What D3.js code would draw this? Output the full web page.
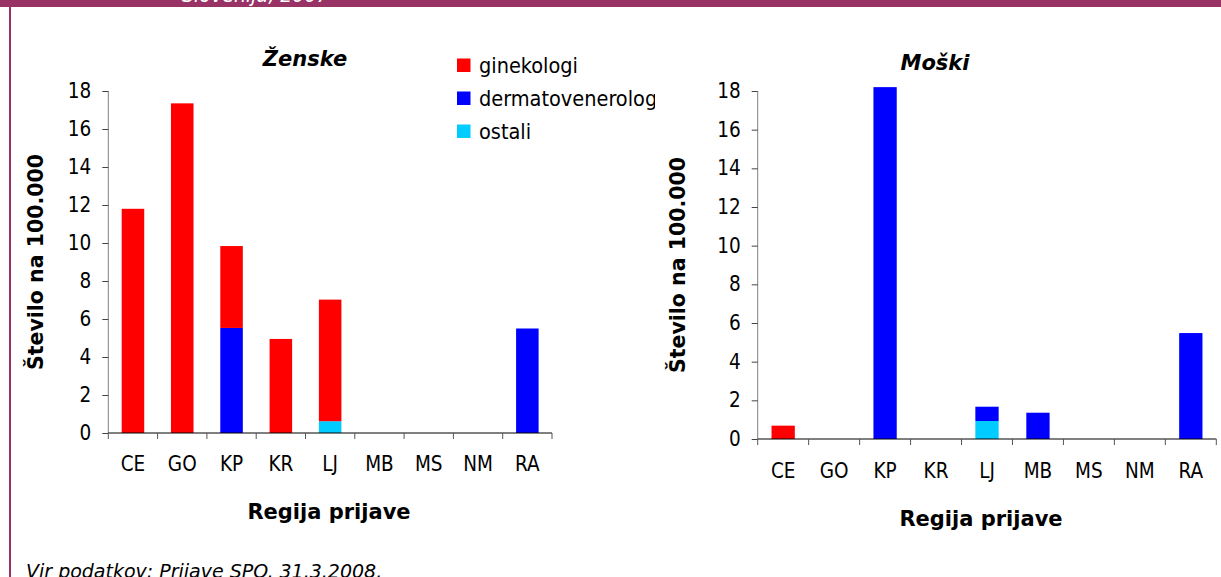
<!DOCTYPE html>
<html>
<head>
<meta charset="utf-8">
<script src="https://cdn.jsdelivr.net/npm/d3@7"></script>
<style>
  html, body { margin: 0; padding: 0; background: #fff; }
  svg { display: block; font-family: "DejaVu Sans", Verdana, sans-serif; }
  .cond { font-family: "DejaVu Sans Condensed", "DejaVu Sans", sans-serif; font-stretch: condensed; }
</style>
</head>
<body>
<svg id="chart" width="1221" height="577"></svg>
<script>
// Regions of notification
const regions = ["CE", "GO", "KP", "KR", "LJ", "MB", "MS", "NM", "RA"];

// Series (rate per 100.000), stacked bottom to top: ostali, dermatovenerologi, ginekologi
const seriesKeys = ["ostali", "dermatovenerologi", "ginekologi"];
const legendKeys = ["ginekologi", "dermatovenerologi", "ostali"];
const seriesColors = { ginekologi: "#ff0000", dermatovenerologi: "#0000ff", ostali: "#00ccff" };

// Women
const zGinekologi = [11.8, 17.35, 4.31, 4.95, 6.4, 0, 0, 0, 0];
const zDermato    = [0, 0, 5.53, 0, 0, 0, 0, 0, 5.5];
const zOstali     = [0, 0, 0, 0, 0.62, 0, 0, 0, 0];

// Men
const mGinekologi = [0.69, 0, 0, 0, 0, 0, 0, 0, 0];
const mDermato    = [0, 0, 18.2, 0, 0.74, 1.36, 0, 0, 5.48];
const mOstali     = [0, 0, 0, 0, 0.93, 0, 0, 0, 0];

const yTicks = [0, 2, 4, 6, 8, 10, 12, 14, 16, 18];

const svg = d3.select("#chart");
const purple = "#993366";

// Header band and left frame line
svg.append("rect").attr("x", 0).attr("y", 0).attr("width", 1221).attr("height", 7).attr("fill", purple);
svg.append("rect").attr("x", 9).attr("y", 0).attr("width", 2).attr("height", 577).attr("fill", purple);
svg.append("text")
  .attr("x", 182).attr("y", 1.5)
  .attr("fill", "#fff")
  .attr("font-size", 19)
  .attr("font-style", "italic")
  .text("Slovenija, 2007");

function buildRows(gin, der, ost) {
  return regions.map((r, i) => ({ region: r, ginekologi: gin[i], dermatovenerologi: der[i], ostali: ost[i] }));
}

function drawPanel(cfg) {
  const g = svg.append("g");
  const x = d3.scaleBand()
    .domain(regions)
    .range([cfg.x0, cfg.x1])
    .paddingInner(0.543)
    .paddingOuter(0.2715);
  const y = d3.scaleLinear().domain([0, 18]).range([cfg.y0, cfg.y1]);
  const step = x.step();

  const stacked = d3.stack().keys(seriesKeys)(cfg.rows);

  g.selectAll("g.series")
    .data(stacked)
    .join("g")
    .attr("class", "series")
    .attr("fill", d => seriesColors[d.key])
    .selectAll("rect")
    .data(d => d.filter(s => s[1] - s[0] > 0))
    .join("rect")
    .attr("x", d => x(d.data.region))
    .attr("width", x.bandwidth())
    .attr("y", d => y(d[1]))
    .attr("height", d => y(d[0]) - y(d[1]));

  // Y axis
  const yAxis = g.append("g")
    .attr("transform", `translate(${cfg.x0},0)`)
    .call(d3.axisLeft(y).tickValues(yTicks).tickSize(6).tickPadding(11).tickFormat(d3.format("d")));
  yAxis.attr("font-family", null).attr("font-size", null);
  yAxis.select(".domain").attr("stroke", "#808080").attr("d", `M0,${cfg.y0}V${cfg.y1}`);
  yAxis.selectAll(".tick line").attr("stroke", "#444");
  yAxis.selectAll(".tick text").attr("class", "cond").attr("font-size", 20.5).attr("fill", "#000");

  // X axis: baseline, boundary ticks, centered labels
  const xAxis = g.append("g").attr("transform", `translate(0,${cfg.y0})`);
  xAxis.append("line")
    .attr("x1", cfg.x0).attr("x2", cfg.x1)
    .attr("stroke", "#000");
  xAxis.selectAll("line.bound")
    .data(d3.range(regions.length + 1))
    .join("line")
    .attr("class", "bound")
    .attr("x1", i => cfg.x0 + i * step).attr("x2", i => cfg.x0 + i * step)
    .attr("y1", 0).attr("y2", 6)
    .attr("stroke", "#555");
  xAxis.selectAll("text")
    .data(regions)
    .join("text")
    .attr("class", "cond")
    .attr("x", d => x(d) + x.bandwidth() / 2)
    .attr("y", cfg.labelDy)
    .attr("text-anchor", "middle")
    .attr("font-size", 20.5)
    .text(d => d);

  // Titles
  g.append("text")
    .attr("x", cfg.titleX).attr("y", cfg.titleY)
    .attr("text-anchor", "middle")
    .attr("font-size", 21)
    .attr("font-weight", "bold")
    .attr("font-style", "italic")
    .text(cfg.title);

  g.append("text")
    .attr("transform", `translate(${cfg.yTitleX},${(cfg.y0 + cfg.y1) / 2}) rotate(-90)`)
    .attr("text-anchor", "middle")
    .attr("font-size", 20.5)
    .attr("font-weight", "bold")
    .text("Število na 100.000");

  g.append("text")
    .attr("x", cfg.xTitleX).attr("y", cfg.xTitleY)
    .attr("text-anchor", "middle")
    .attr("font-size", 21)
    .attr("font-weight", "bold")
    .text("Regija prijave");
}

drawPanel({
  rows: buildRows(zGinekologi, zDermato, zOstali),
  x0: 108.3, x1: 552, y0: 433, y1: 91,
  labelDy: 38,
  title: "Ženske", titleX: 305, titleY: 66,
  yTitleX: 42.5, xTitleX: 329, xTitleY: 519
});

drawPanel({
  rows: buildRows(mGinekologi, mDermato, mOstali),
  x0: 757.7, x1: 1216.3, y0: 439, y1: 91,
  labelDy: 39,
  title: "Moški", titleX: 935, titleY: 70,
  yTitleX: 684.5, xTitleX: 981, xTitleY: 526
});

// Legend (clipped on the right)
const defs = svg.append("defs");
defs.append("clipPath").attr("id", "legendClip")
  .append("rect").attr("x", 440).attr("y", 40).attr("width", 215).attr("height", 120);
const legend = svg.append("g").attr("clip-path", "url(#legendClip)");
const legendItem = legend.selectAll("g")
  .data(legendKeys)
  .join("g")
  .attr("transform", (d, i) => `translate(457,${58.5 + i * 33})`);
legendItem.append("rect")
  .attr("width", 13.5).attr("height", 13.5)
  .attr("fill", d => seriesColors[d]);
legendItem.append("text")
  .attr("class", "cond")
  .attr("x", 22).attr("y", 14)
  .attr("font-size", 21.5)
  .text(d => d);

// Source note
svg.append("text")
  .attr("x", 26).attr("y", 577.5)
  .attr("font-size", 19)
  .attr("font-style", "italic")
  .text("Vir podatkov: Prijave SPO, 31.3.2008.");
</script>
</body>
</html>
